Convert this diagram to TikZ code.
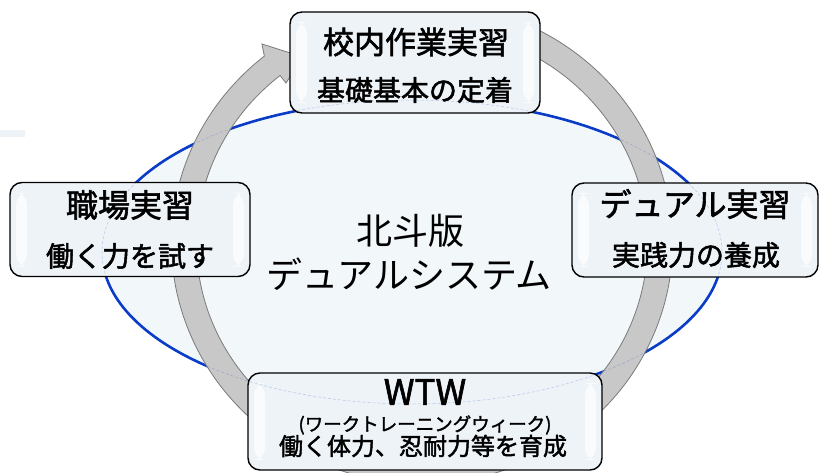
\documentclass[tikz,border=0pt]{standalone}
\usepackage{fontspec}
\newfontfamily\jp{Noto Sans CJK JP}
\newfontfamily\jpmid{Noto Sans CJK JP}[FakeBold=1.8]
\definecolor{ellblue}{HTML}{0A3CC8}
\definecolor{ellfill}{HTML}{F2F7FA}
\definecolor{boxfill}{HTML}{EEF3F7}
\definecolor{ringfill}{HTML}{C8C8C8}
\definecolor{ringline}{HTML}{7A7A7A}
\begin{document}
\begin{tikzpicture}[x=1pt,y=-1pt,
    box/.style={draw=black, line width=1.4pt, rounded corners=12pt, fill=boxfill, inner sep=0pt,
      path picture={
        \fill[white, opacity=0.7] ([xshift=6pt, yshift=10pt]path picture bounding box.south west) rectangle ([xshift=17pt, yshift=-10pt]path picture bounding box.north west);
        \fill[white, opacity=0.7] ([xshift=-6pt, yshift=10pt]path picture bounding box.south east) rectangle ([xshift=-17pt, yshift=-10pt]path picture bounding box.north east);
      }},
    head/.style={inner sep=0pt, font={\jpmid\fontsize{32}{32}\selectfont}},
    sub/.style={inner sep=0pt, font={\jpmid\fontsize{28}{28}\selectfont}},
    title/.style={inner sep=0pt, font={\jp\fontsize{36}{36}\selectfont}},
    ring/.style={fill=ringfill, draw=ringline, line width=0.8pt}]
    \useasboundingbox (0,0) rectangle (820,472);
    \fill[boxfill] (0,130) rectangle (25,137);

    \coordinate (rc) at (422,243);
    \filldraw[fill=ellfill, draw=ellblue, line width=2.6pt] (412,252) ellipse [x radius=310, y radius=152];
    \filldraw[ring] ([shift={(-68:250.5 and 240.5)}]rc) arc[start angle=-68, end angle=231, x radius=250.5, y radius=240.5]
        -- (262,44) -- (303,57) -- (286,83)
        -- ([shift={(231:225.5 and 215.5)}]rc) arc[start angle=231, end angle=-68, x radius=225.5, y radius=215.5] -- cycle;

    \node[title] (hokuto) at (410,231) {北斗版};
    \node[title] (dualsys) at (409,274) {デュアルシステム};

    \node[box, minimum width=250, minimum height=101] (kounai) at (415,62.5) {};
    \node[box, minimum width=240, minimum height=94] (shokuba) at (130,229.5) {};
    \node[box, minimum width=246, minimum height=94] (dual) at (695,230) {};
    \node[box, minimum width=354, minimum height=97] (wtw) at (425,421.5) {};

    \draw[ellblue, opacity=0.25, densely dashed, line width=0.5pt] (412,252) ellipse [x radius=310, y radius=152];

    \node[head, font={\jpmid\fontsize{31}{31}\selectfont}] (kounaiA) at (416,42) {校内作業実習};
    \node[sub] (kounaiB) at (415,90) {基礎基本の定着};
    \node[head] (shokubaA) at (130,205) {職場実習};
    \node[sub] (shokubaB) at (130,256) {働く力を試す};
    \node[head] (dualA) at (695,204) {デュアル実習};
    \node[sub] (dualB) at (696,255) {実践力の養成};
    \node[inner sep=0pt, font={\jpmid\fontsize{35}{35}\selectfont}] (wtwA) at (425,392) {WTW};
    \node[inner sep=0pt, font={\jpmid\fontsize{18.5}{18.5}\selectfont}] (wtwB) at (425,425) {(ワークトレーニングウィーク)};
    \node[inner sep=0pt, font={\jpmid\fontsize{24}{24}\selectfont}] (wtwC) at (423,446) {働く体力、忍耐力等を育成};
\end{tikzpicture}
\end{document}
